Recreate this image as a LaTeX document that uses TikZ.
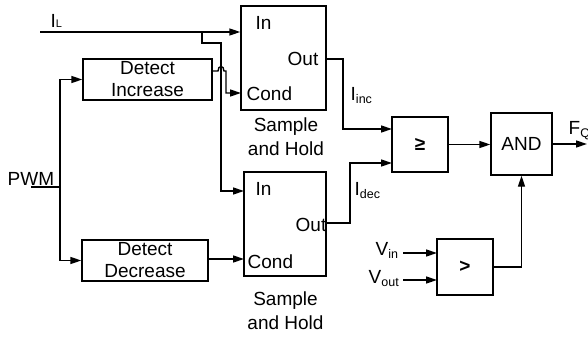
\documentclass[tikz,border=0pt]{standalone}
\usepackage{fontspec}
\setmainfont{Liberation Sans}
\usetikzlibrary{arrows.meta}
\newcommand\fs{\fontsize{19}{22}\selectfont}
\newcommand\mysub[1]{\raisebox{-3pt}{\fontsize{12.5}{12.5}\selectfont #1}}
\begin{document}
\begin{tikzpicture}[x=1pt,y=-1pt,line width=1.4pt,
  box/.style={draw,line width=1.4pt,inner sep=0pt,align=center,font=\fs},
  lbl/.style={inner sep=0pt,font=\fs},
  arr/.style={-{Triangle[length=11pt,width=7pt]}}]
\useasboundingbox (0,0) rectangle (588,337);
% boxes
\node[box,minimum width=85pt,minimum height=104pt] (sh1) at (283.5,58) {};
\node[box,minimum width=82pt,minimum height=104pt] (sh2) at (285,224) {};
\node[box,minimum width=129pt,minimum height=41pt] (di) at (147.5,79.5) {Detect\\Increase};
\node[box,minimum width=126pt,minimum height=41pt] (dd) at (145,260.5) {Detect\\Decrease};
\node[box,minimum width=56pt,minimum height=55pt] (ge) at (420,144.5) {\textbf{≥}};
\node[box,minimum width=61pt,minimum height=62pt] (and) at (521.5,144) {AND};
\node[box,minimum width=56pt,minimum height=56pt] (gt) at (465,267) {\textbf{>}};
% labels inside sample and hold
\node[lbl,anchor=base west] (sh1inl) at (255,30) {In};
\node[lbl,anchor=base west] (sh1condl) at (246,100) {Cond};
\node[lbl,anchor=base west] (sh1outl) at (287,65) {Out};
\node[lbl,anchor=base west] (sh2inl) at (255,195) {In};
\node[lbl,anchor=base west] (sh2condl) at (247,268) {Cond};
\node[lbl,anchor=base west] (sh2outl) at (295,231) {Out};
\node[lbl,align=center,font=\fontsize{19}{24}\selectfont] (sh1lab) at (286,137) {Sample\\and Hold};
\node[lbl,align=center,font=\fontsize{19}{24}\selectfont] (sh2lab) at (285.5,311) {Sample\\and Hold};
% signal labels
\node[lbl,anchor=base west] (ill) at (50,28) {I\raisebox{0pt}{\fontsize{11}{11}\selectfont L}};
\node[lbl,anchor=base west] (pwml) at (7,185) {PWM};
\node[lbl,anchor=base west] (iincl) at (350,100) {I\mysub{inc}};
\node[lbl,anchor=base west] (idecl) at (354,195) {I\mysub{dec}};
\node[lbl,anchor=base west] (vinl) at (375,255) {V\mysub{in}};
\node[lbl,anchor=base west] (voutl) at (368,283) {V\mysub{out}};
\node[lbl,anchor=base west] (fql) at (568,134) {F\mysub{Q}};
% ports
\coordinate (ilstart) at (40,32);
\coordinate (sh1in) at (sh1.west |- ilstart);
\coordinate (br) at (202,32);
\coordinate (sh1cond) at (241,93);
\coordinate (sh1out) at (326,59);
\coordinate (sh2in) at (244,191);
\coordinate (sh2cond) at (244,259);
\coordinate (sh2out) at (326,223);
\coordinate (gein1) at (392,129);
\coordinate (gein2) at (392,163);
\coordinate (gtin1) at (437,253);
\coordinate (gtin2) at (437,280);
\coordinate (vins) at (403,253);
\coordinate (vouts) at (403,280);
\coordinate (pwmin) at (31,187);
\coordinate (pwmj) at (60,187);
\coordinate (dio) at (212,71);
\coordinate (ddo) at (208,259);
\coordinate (fq) at (587,144);
% wires
\draw[arr] (ilstart) -- (sh1in);
\draw[arr] (br) -- (202,43) -- (221,43) -- (221,191) -- (sh2in);
\draw (pwmin) -- (pwmj);
\draw[arr] (pwmj) |- (di.west);
\draw[arr] (pwmj) |- (dd.west);
\draw[arr] (dio) -- (218,71) .. controls (218,65) and (224,65) .. (224,71) -- (226,71) -- (226,93) -- (sh1cond);
\draw[arr] (ddo) -- (sh2cond);
\draw[arr] (sh1out) -- (343,59) |- (gein1);
\draw[arr] (sh2out) -- (350,223) |- (gein2);
\draw[arr] (ge.east) -- (and.west |- ge.east);
\draw[arr] (and.east) -- (fq);
\draw[arr] (gt.east) -| (and.south);
\draw[arr] (vins) -- (gtin1);
\draw[arr] (vouts) -- (gtin2);
\end{tikzpicture}
\end{document}
